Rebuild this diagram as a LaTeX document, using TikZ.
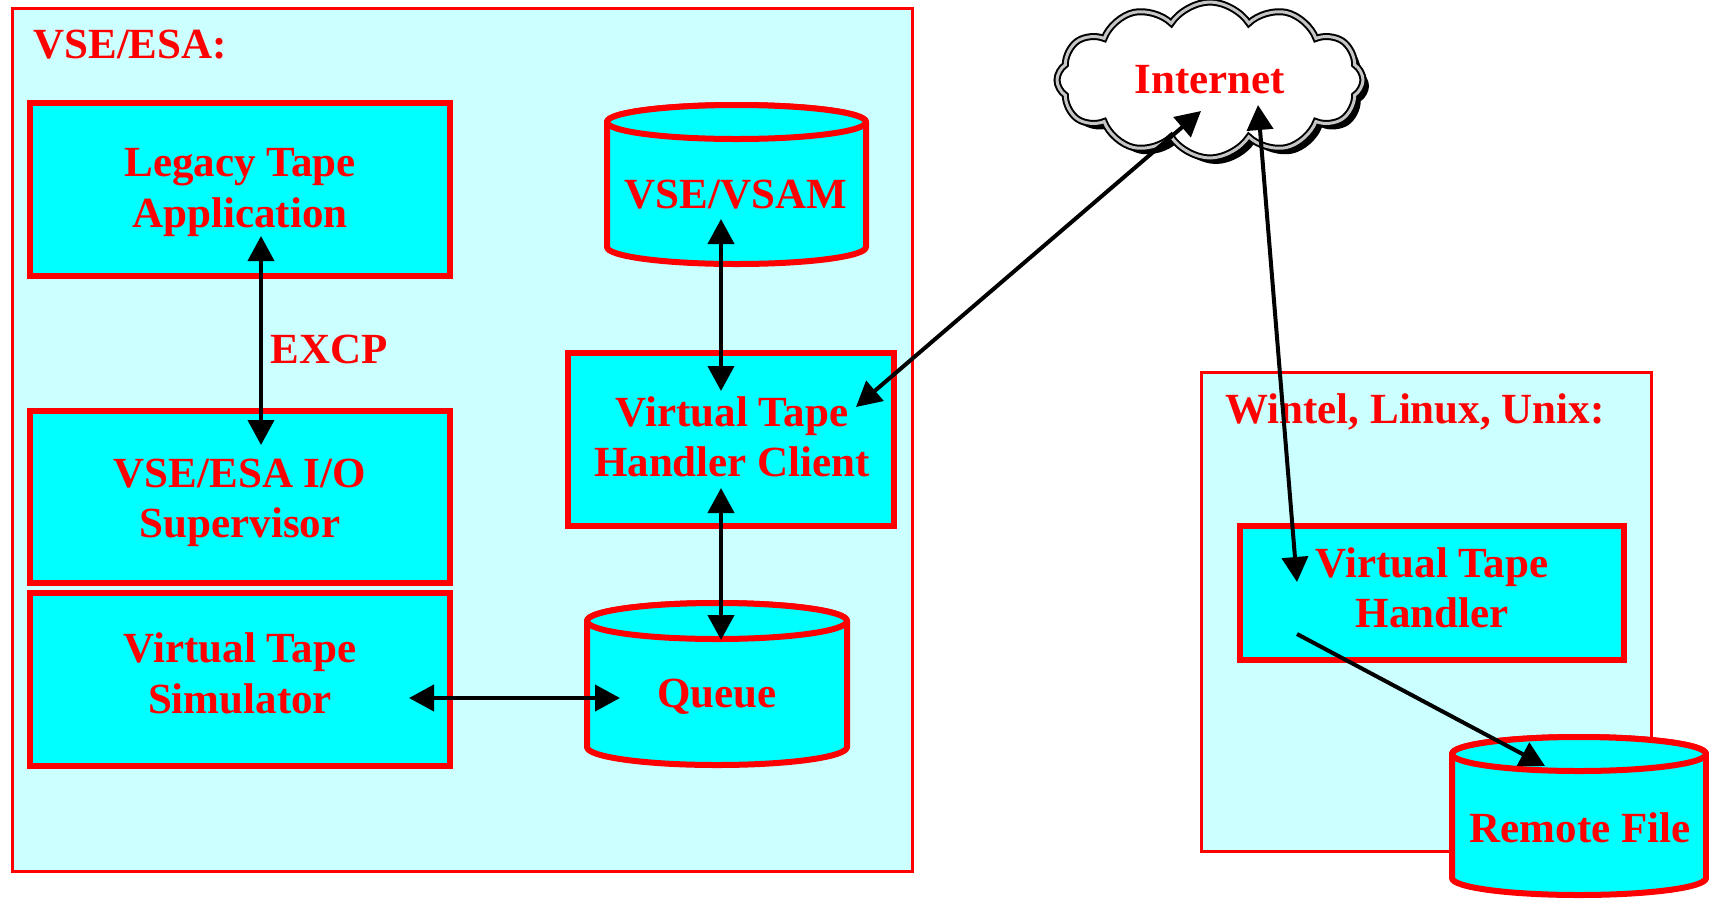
\documentclass[tikz,border=0pt]{standalone}
\usepackage{fontspec}
\setmainfont{Liberation Serif}
\usetikzlibrary{arrows.meta,shapes.symbols,shadows}
\definecolor{paleC}{HTML}{CCFFFF}
\definecolor{boxC}{HTML}{00FFFF}
\definecolor{txtR}{HTML}{FF0000}
\tikzset{
  area/.style={draw=txtR, line width=1.5pt, fill=paleC},
  procbox/.style={draw=txtR, line width=3pt, fill=boxC, inner sep=0pt},
  cylbody/.style={draw=txtR, line width=3pt, fill=boxC, line join=round},
  lbl/.style={text=txtR, font=\bfseries\fontsize{21.5}{26}\selectfont, inner sep=0pt},
  tline/.style={lbl, anchor=base},
  tipT/.tip={Triangle[length=12.5pt,width=13pt]},
  link/.style={draw=black, line width=2pt, tipT-tipT},
  onelink/.style={draw=black, line width=2pt, -tipT},
  netcloud/.style={cloud, cloud puffs=12, cloud puff arc=115, aspect=2,
    cloud ignores aspect, minimum width=153pt, minimum height=78pt,
    draw=black, line width=1pt, double=gray!45, double distance=1.5pt,
    fill=white, text=txtR, font=\bfseries\fontsize{21.5}{26}\selectfont,
    drop shadow={shadow xshift=3pt, shadow yshift=-3pt, fill=black, opacity=1}},
}
\begin{document}
\begin{tikzpicture}[x=0.5pt,y=-0.5pt]
\useasboundingbox (0,0) rectangle (1709,901);

% areas
\path[area] (12,8) rectangle (912,871);
\path[area] (1201,372) rectangle (1651,851);
\node[lbl, anchor=base west] (vselbl) at (33,58) {VSE/ESA:};
\node[lbl, anchor=base west] (wlbl) at (1225,423) {Wintel, Linux, Unix:};

% process boxes
\node[procbox, minimum width=210pt, minimum height=86.5pt] (legacy) at (240,189.5) {};
\node[tline] (legacyT1) at (240,176) {Legacy Tape};
\node[tline] (legacyT2) at (240,227) {Application};

\node[procbox, minimum width=210pt, minimum height=86pt] (superv) at (240,497) {};
\node[tline] (supervT1) at (240,487) {VSE/ESA I/O};
\node[tline] (supervT2) at (240,537) {Supervisor};

\node[procbox, minimum width=210pt, minimum height=86.5pt] (simul) at (240,679.5) {};
\node[tline] (simulT1) at (240,662) {Virtual Tape};
\node[tline] (simulT2) at (240,713) {Simulator};

\node[procbox, minimum width=163pt, minimum height=86.5pt] (client) at (731,439.5) {};
\node[tline] (clientT1) at (732,426) {Virtual Tape};
\node[tline] (clientT2) at (732,476) {Handler Client};

\node[procbox, minimum width=192pt, minimum height=67pt] (handler) at (1432,593) {};
\node[tline] (handlerT1) at (1432,577) {Virtual Tape};
\node[tline] (handlerT2) at (1432,627) {Handler};

% cylinders
\filldraw[cylbody] (607,122) -- (607,247) arc[start angle=180,end angle=360,x radius=64.75pt,y radius=8.5pt]
  -- (866,122) arc[start angle=0,end angle=180,x radius=64.75pt,y radius=8.5pt] -- cycle;
\filldraw[cylbody] (736.5,122) ellipse[x radius=64.75pt,y radius=8.5pt];
\node[tline] (vsam) at (736,208) {VSE/VSAM};

\filldraw[cylbody] (587,621) -- (587,747) arc[start angle=180,end angle=360,x radius=65pt,y radius=9pt]
  -- (847,621) arc[start angle=0,end angle=180,x radius=65pt,y radius=9pt] -- cycle;
\filldraw[cylbody] (717,621) ellipse[x radius=65pt,y radius=9pt];
\node[tline] (queue) at (717,707) {Queue};

\filldraw[cylbody] (1452,754) -- (1452,878) arc[start angle=180,end angle=360,x radius=63.5pt,y radius=8.5pt]
  -- (1706,754) arc[start angle=0,end angle=180,x radius=63.5pt,y radius=8.5pt] -- cycle;
\filldraw[cylbody] (1579,754) ellipse[x radius=63.5pt,y radius=8.5pt];
\node[tline] (remote) at (1580,842) {Remote File};

% cloud
\node[netcloud] (inet) at (1210,80) {Internet};

% label
\node[lbl, anchor=base west] (excp) at (270,363) {EXCP};

% connector end points
\coordinate (legacyP) at (261,236);
\coordinate (supervP) at (261,445);
\coordinate (vsamP) at (721,219);
\coordinate (clientTop) at (721,391);
\coordinate (clientBot) at (721,488);
\coordinate (queueTop) at (721,640);
\coordinate (simulP) at (409,698);
\coordinate (queueP) at (620,698);
\coordinate (clientNet) at (856,407);
\coordinate (inetA) at (1201,111);
\coordinate (inetB) at (1258,105);
\coordinate (handlerIn) at (1297,582);
\coordinate (handlerOut) at (1297,634);
\coordinate (remoteP) at (1545,766);

\draw[link] (legacyP) -- (supervP);
\draw[link] (vsamP) -- (clientTop);
\draw[link] (clientBot) -- (queueTop);
\draw[link] (simulP) -- (queueP);
\draw[link] (clientNet) -- (inetA);
\draw[link] (inetB) -- (handlerIn);
\draw[onelink] (handlerOut) -- (remoteP);
\end{tikzpicture}
\end{document}
